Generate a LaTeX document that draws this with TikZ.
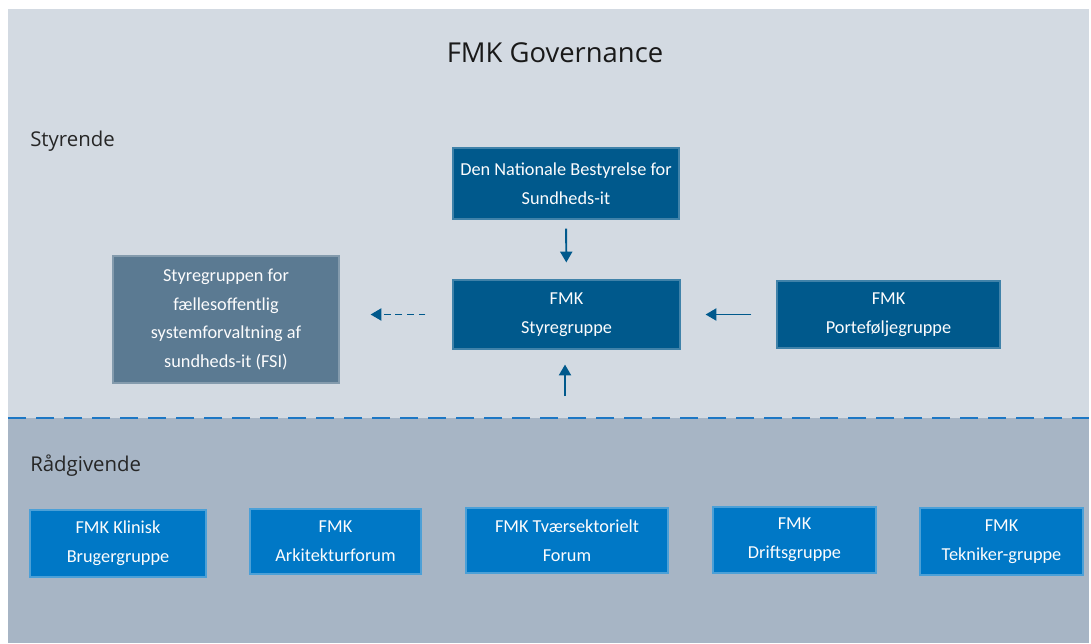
\documentclass[tikz,border=0pt]{standalone}
\usepackage{fontspec}
\setmainfont{Carlito}
\newfontfamily\headfont{Open Sans}
\usetikzlibrary{arrows.meta}
\definecolor{lightbg}{HTML}{D3DAE2}
\definecolor{darkbg}{HTML}{A7B5C5}
\definecolor{boardblue}{HTML}{00598C}
\definecolor{fsigray}{HTML}{5B7A92}
\definecolor{advblue}{HTML}{0078C6}
\definecolor{lineblue}{HTML}{1D77C4}
\newcommand{\arrowcolor}{boardblue}
\newcommand{\arrowwidth}{1.4pt}

\begin{document}
\begin{tikzpicture}[
  box/.style={rectangle, inner sep=0pt, text=white!93!lightbg, align=center,
    font=\fontsize{13}{20.5}\selectfont, line width=0.8pt},
  styrbox/.style={box, fill=boardblue, draw=boardblue!75!white},
  fsibox/.style={box, fill=fsigray, draw=fsigray!75!white},
  raadbox/.style={box, fill=advblue, draw=advblue!70!white},
  section/.style={anchor=west, inner sep=0pt, text=black!85, font=\headfont\fontsize{14.5}{16}\selectfont},
  link/.style={draw=\arrowcolor, line width=\arrowwidth, -{Triangle[length=0.27cm, width=0.3cm]}}
]
\useasboundingbox (0,0) rectangle (27.275,-16.075);
%backgrounds
\fill[white] (0,0) rectangle (27.275,-16.075);
\fill[lightbg] (0.2,-0.225) rectangle (27.225,-10.45);
\fill[darkbg] (0.2,-10.45) rectangle (27.225,-16.075);
\draw[lineblue, line width=2pt, dash pattern=on 0.45cm off 0.25cm] (0.2,-10.45) -- (27.225,-10.45);
%titles
\node (title) at (13.875,-1.325) [font=\headfont\fontsize{19.5}{22}\selectfont, text=black!90] {FMK Governance};
\node (styrende) at (0.75,-3.525) [section] {Styrende};
\node (raadgivende) at (0.75,-11.65) [section] {Rådgivende};
%styrende
\node (nat) at (14.15,-4.5875) [styrbox, minimum width=5.65cm, minimum height=1.775cm] {Den Nationale Bestyrelse for\\Sundheds-it};
\node (styr) at (14.1625,-7.8625) [styrbox, minimum width=5.675cm, minimum height=1.725cm] {FMK\\Styregruppe};
\node (port) at (22.2125,-7.8625) [styrbox, minimum width=5.575cm, minimum height=1.675cm] {FMK\\Porteføljegruppe};
\node (fsi) at (5.65,-7.9875) [fsibox, minimum width=5.65cm, minimum height=3.175cm] {Styregruppen for\\fællesoffentlig\\systemforvaltning af\\sundheds-it (FSI)};
%raadgivende
\node (klin) at (2.95,-13.5875) [raadbox, minimum width=4.4cm, minimum height=1.675cm] {FMK Klinisk\\Brugergruppe};
\node (arki) at (8.3875,-13.5375) [raadbox, minimum width=4.275cm, minimum height=1.625cm] {FMK\\Arkitekturforum};
\node (tvaer) at (14.175,-13.5125) [raadbox, minimum width=5.05cm, minimum height=1.625cm] {FMK Tværsektorielt\\Forum};
\node (drift) at (19.8625,-13.5) [raadbox, minimum width=4.075cm, minimum height=1.65cm] {FMK\\Driftsgruppe};
\node (tekn) at (25.0375,-13.5375) [raadbox, minimum width=4.075cm, minimum height=1.675cm] {FMK\\Tekniker-gruppe};
\coordinate (raad) at (14.125,-9.9);
%arrows
\draw[link, shorten <=0.225cm, shorten >=0.425cm] (nat) -- (styr);
\draw[link, shorten <=0.625cm, shorten >=0.625cm] (port) -- (styr);
\draw[link, shorten >=0.375cm] (raad) -- (raad |- styr.south);
\draw[link, dash pattern=on 0.17cm off 0.12cm, shorten <=0.675cm, shorten >=0.775cm] (styr.west) -- (styr.west -| fsi.east);
\end{tikzpicture}
\end{document}
